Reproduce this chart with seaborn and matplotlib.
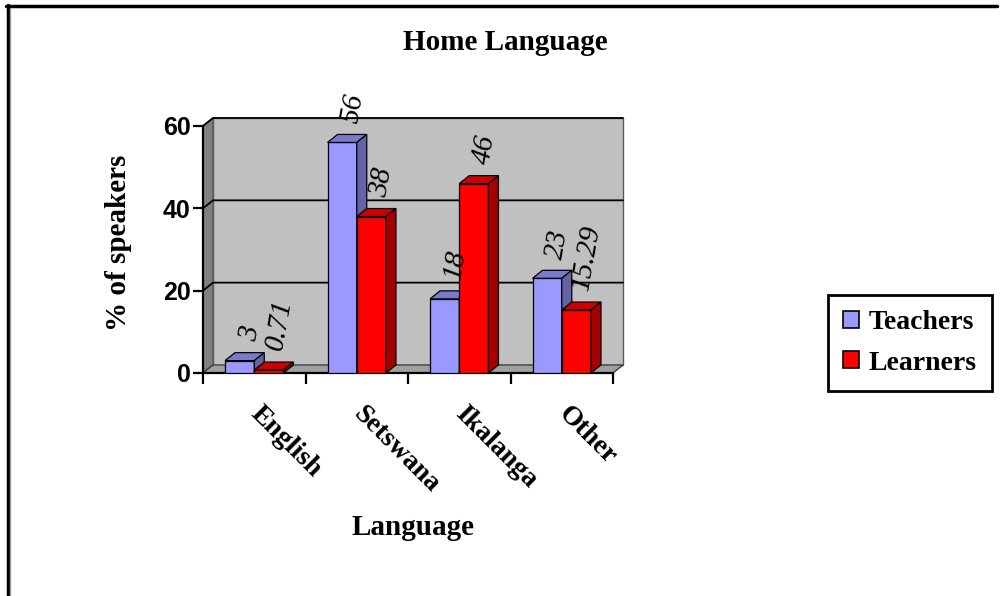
import matplotlib
matplotlib.use("Agg")
import matplotlib.pyplot as plt
import matplotlib.colors as mcolors
from matplotlib.patches import Polygon, Patch
from matplotlib.lines import Line2D
import pandas as pd
import seaborn as sns

# Home language of teachers and learners (% of speakers)
languages = ["English", "Setswana", "Ikalanga", "Other"]
series = ["Teachers", "Learners"]
teachers = [3, 56, 18, 23]
learners = [0.71, 38, 46, 15.29]
y_ticks = [0, 20, 40, 60]

df = pd.DataFrame({
    "Language": languages * 2,
    "Group": [series[0]] * len(languages) + [series[1]] * len(languages),
    "Percent": teachers + learners,
})

sns.set_theme(style="white")
plt.rcParams["font.family"] = ["Liberation Serif", "DejaVu Serif"]
plt.rcParams.update({"text.color": "black", "axes.labelcolor": "black",
                     "xtick.color": "black", "ytick.color": "black"})

W, H, DPI = 10, 5.96, 100
fig = plt.figure(figsize=(W, H), dpi=DPI)
ax = fig.add_axes([0.203, 0.3742, 0.41, 0.4144])

palette = {"Teachers": "#9999FF", "Learners": "#FF0000"}
sns.barplot(data=df, x="Language", y="Percent", hue="Group",
            order=languages, hue_order=series, palette=palette,
            width=0.57, dodge=True, saturation=1, legend=False,
            edgecolor="black", linewidth=0.9, ax=ax)
bars = list(ax.patches)

YMAX = y_ticks[-1]
ax.set_xlim(-0.5, len(languages) - 0.5)
ax.set_ylim(0, YMAX)

# extrusion depth of the 3-D box, converted from pixels to data units
pos = ax.get_position()
px_per_x = pos.width * W * DPI / len(languages)
px_per_y = pos.height * H * DPI / YMAX
DX = 10 / px_per_x
DY = 8 / px_per_y

x_lo, x_hi = -0.5, len(languages) - 0.5

# walls and floor
back = Polygon([(x_lo + DX, DY), (x_hi + DX, DY), (x_hi + DX, YMAX + DY), (x_lo + DX, YMAX + DY)],
               closed=True, facecolor="#C0C0C0", edgecolor="#5a5a5a", lw=1.0,
               clip_on=False, zorder=0.5)
side = Polygon([(x_lo, 0), (x_lo + DX, DY), (x_lo + DX, YMAX + DY), (x_lo, YMAX)],
               closed=True, facecolor="#808080", edgecolor="#5a5a5a", lw=1.0,
               clip_on=False, zorder=0.6)
floor = Polygon([(x_lo, 0), (x_hi, 0), (x_hi + DX, DY), (x_lo + DX, DY)],
                closed=True, facecolor="#A0A0A0", edgecolor="#404040", lw=1.0,
                clip_on=False, zorder=0.7)
for p in (back, side, floor):
    ax.add_patch(p)

for v in y_ticks[1:]:
    ax.plot([x_lo, x_lo + DX, x_hi + DX], [v, v + DY, v + DY], color="black",
            lw=1.3, clip_on=False, zorder=0.8)


def shade(color, f):
    r, g, b, _ = mcolors.to_rgba(color)
    return (r * f, g * f, b * f)


# give each bar a top and a right-hand face, then its value label
values = teachers + learners
for k, bar in enumerate(bars):
    level = k // len(languages)
    z = 3 + 2 * level
    bar.set_zorder(z)
    x0, w, h = bar.get_x(), bar.get_width(), bar.get_height()
    fc = bar.get_facecolor()
    top = Polygon([(x0, h), (x0 + w, h), (x0 + w + DX, h + DY), (x0 + DX, h + DY)],
                  closed=True, facecolor=shade(fc, 0.8), edgecolor="black", lw=0.9,
                  clip_on=False, zorder=z + 0.1)
    right = Polygon([(x0 + w, 0), (x0 + w + DX, DY), (x0 + w + DX, h + DY), (x0 + w, h)],
                    closed=True, facecolor=shade(fc, 0.65), edgecolor="black", lw=0.9,
                    clip_on=False, zorder=z + 0.1)
    ax.add_patch(top)
    ax.add_patch(right)
    ax.annotate(f"{values[k]:g}", xy=(x0 + w / 2 + DX / 2, h + DY),
                xytext=(4, 7), textcoords="offset points",
                rotation=80, ha="center", va="bottom", fontsize=21,
                style="italic", color="black", zorder=10, annotation_clip=False)

# axes styling
for s in ("top", "right"):
    ax.spines[s].set_visible(False)
for s in ("left", "bottom"):
    ax.spines[s].set_color("black")
    ax.spines[s].set_linewidth(1.6)
    ax.spines[s].set_zorder(1)

ax.set_yticks(y_ticks)
ax.set_yticklabels([str(t) for t in y_ticks], family=["Liberation Sans"],
                   fontweight="bold", fontsize=18)
ax.tick_params(axis="y", direction="out", length=7, width=1.6, color="black",
               pad=2, left=True)

ax.set_xticks(range(len(languages)))
ax.set_xticks([i - 0.5 for i in range(len(languages) + 1)], minor=True)
ax.set_xticklabels(languages, rotation=-45, ha="left", va="center",
                   rotation_mode="anchor", fontweight="bold", fontsize=20)
ax.tick_params(axis="x", which="major", length=0, pad=27)
ax.tick_params(axis="x", which="minor", direction="out", length=8, width=1.6,
               color="black", bottom=True)

ax.set_xlabel("Language", fontweight="bold", fontsize=21)
ax.xaxis.set_label_coords(0.512, -0.57)
ax.set_ylabel("% of speakers", fontweight="bold", fontsize=21)
ax.yaxis.set_label_coords(-0.172, 0.526)

fig.text(0.505, 1 - 42 / 596, "Home Language", ha="center", va="center",
         fontweight="bold", fontsize=21)

handles = [Patch(facecolor=palette[s], edgecolor="black", lw=1.2) for s in series]
leg = fig.legend(handles, series, loc="upper left",
                 bbox_to_anchor=(0.828, 1 - 295 / 596), borderaxespad=0,
                 frameon=True,
                 prop=dict(family="Liberation Serif", weight="bold", size=20),
                 handlelength=0.55, handleheight=0.55, labelspacing=0.55,
                 borderpad=0.55, handletextpad=0.35, fancybox=False,
                 edgecolor="black", framealpha=1)
leg.get_frame().set_linewidth(2)

# outer border of the chart area
fig.add_artist(Line2D([0.006, 0.997], [1 - 6 / 596] * 2, transform=fig.transFigure,
                      color="black", lw=2.5))
fig.add_artist(Line2D([0.0075, 0.0075], [1 - 5 / 596, 0], transform=fig.transFigure,
                      color="black", lw=2.5))
fig.add_artist(Line2D([0.0102, 0.0102], [1 - 8 / 596, 0], transform=fig.transFigure,
                      color="#9a9a9a", lw=1.0))

fig.savefig("out.png", dpi=DPI)
